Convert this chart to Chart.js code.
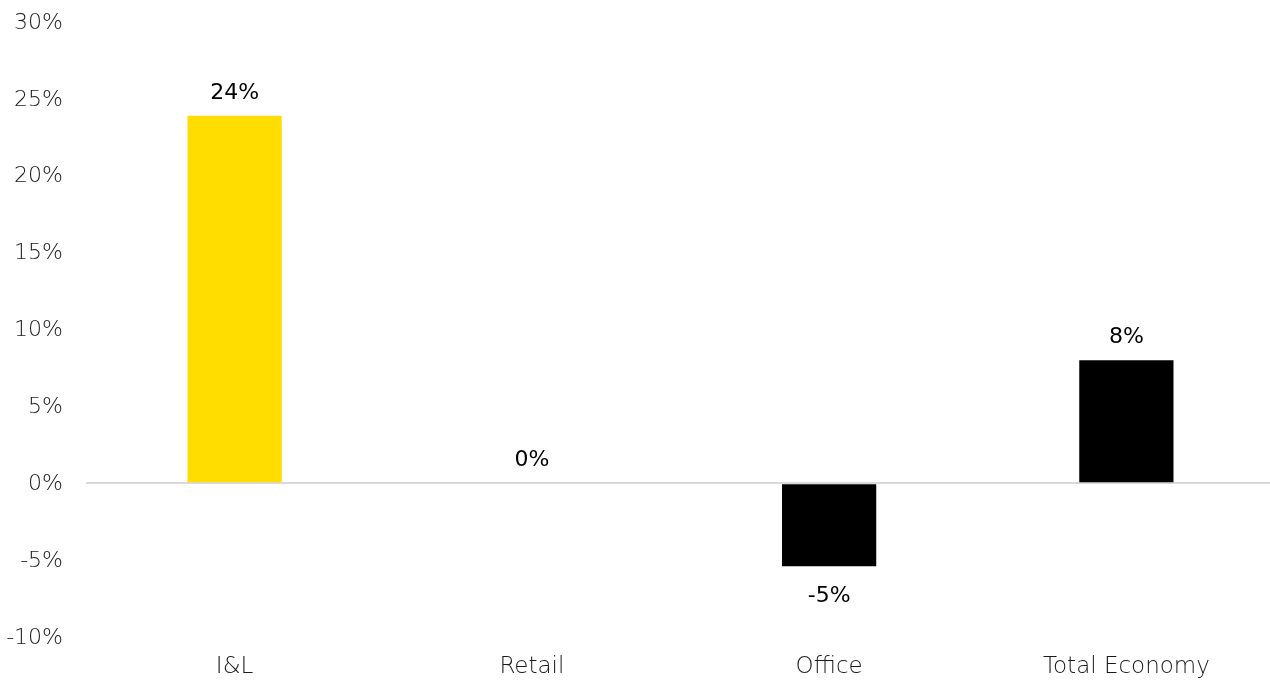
<!DOCTYPE html>
<html>
<head>
<meta charset="utf-8">
<script src="https://cdn.jsdelivr.net/npm/chart.js@4.4.1/dist/chart.umd.min.js"></script>
<style>
  html, body { margin: 0; padding: 0; background: #fff; overflow: hidden; }
  #wrap { width: 1275px; height: 682px; position: relative; }
</style>
</head>
<body>
<div id="wrap"><canvas id="chart"></canvas></div>
<script>
// Growth by sector (%)
const categories = ['I&L', 'Retail', 'Office', 'Total Economy'];
const growth = [23.9, 0, -5.4, 8.0];
const barColors = ['#FFDD00', '#000000', '#000000', '#000000'];
const yTicks = [-10, -5, 0, 5, 10, 15, 20, 25, 30];

const FONT = '"DejaVu Sans", sans-serif';

// Value labels above positive bars, below negative ones
const valueLabels = {
  id: 'valueLabels',
  afterDatasetsDraw(chart) {
    const { ctx } = chart;
    const meta = chart.getDatasetMeta(0);
    ctx.save();
    ctx.font = 'normal 22px ' + FONT;
    ctx.fillStyle = '#000';
    ctx.textAlign = 'center';
    ctx.textBaseline = 'middle';
    meta.data.forEach((bar, i) => {
      const v = chart.data.datasets[0].data[i];
      const txt = Math.round(v) + '%';
      const y = v < 0 ? bar.y + 30 : bar.y - 23;
      ctx.fillText(txt, bar.x, y);
    });
    ctx.restore();
  }
};

new Chart(document.getElementById('chart'), {
  type: 'bar',
  data: {
    labels: categories,
    datasets: [{
      data: growth,
      backgroundColor: barColors,
      barPercentage: 0.317,
      categoryPercentage: 1.0
    }]
  },
  options: {
    responsive: true,
    maintainAspectRatio: false,
    animation: false,
    layout: { padding: { top: 22, right: 0, bottom: 0, left: 0 } },
    plugins: { legend: { display: false }, tooltip: { enabled: false } },
    scales: {
      x: {
        grid: { display: false, drawTicks: false },
        border: { display: false },
        ticks: { color: '#1a1a1a', font: { family: FONT, size: 23, weight: 200 }, padding: 16 },
        afterFit(scale) { scale.height = 45; }
      },
      y: {
        min: -10,
        max: 30,
        afterBuildTicks(scale) { scale.ticks = yTicks.map(v => ({ value: v })); },
        grid: {
          drawTicks: false,
          lineWidth: 2,
          color: ctx => (ctx.tick && ctx.tick.value === 0 ? '#d9d9d9' : 'rgba(0,0,0,0)')
        },
        border: { display: false },
        ticks: {
          color: '#1a1a1a',
          font: { family: FONT, size: 22, weight: 200 },
          padding: 23,
          labelOffset: 1,
          callback: v => v + '%'
        },
        afterFit(scale) {
          scale.width = 86;
          scale.paddingTop = 0;
          scale.paddingBottom = 0;
        }
      }
    }
  },
  plugins: [valueLabels]
});
</script>
</body>
</html>
